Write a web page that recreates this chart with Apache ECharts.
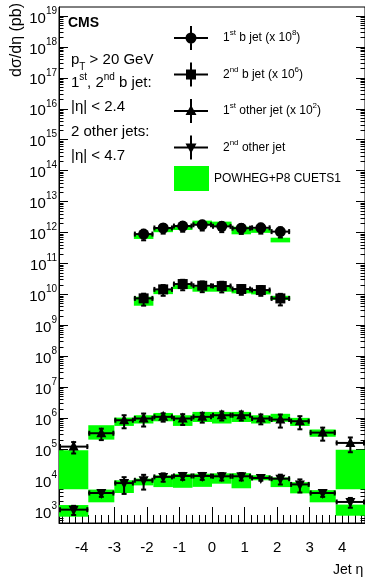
<!DOCTYPE html>
<html>
<head>
<meta charset="utf-8">
<script src="https://cdn.jsdelivr.net/npm/echarts@6/dist/echarts.min.js"></script>
<style>
  html, body { margin: 0; padding: 0; background: #fff; }
  #chart { width: 365px; height: 578px; }
</style>
</head>
<body>
<div id="chart"></div>
<script>
// eta bin edges
const bEdges = [-2.4, -1.8, -1.2, -0.6, 0, 0.6, 1.2, 1.8, 2.4];
const oEdges = [-4.7, -3.8, -3.0, -2.4, -1.8, -1.2, -0.6, 0, 0.6, 1.2, 1.8, 2.4, 3.0, 3.8, 4.7];

// dσ/dη (pb) before the display factors; *Err = half height of the error bar / MC band
const b1Data = [8900, 14000, 16200, 17800, 15800, 13800, 14200, 10700];
const b1Err = [3300, 4800, 5600, 6200, 5500, 4800, 5000, 3800];
const b1Mc = [7250, 12000, 14800, 20900, 19000, 12100, 11400, 5800];
const b1McErr = [1050, 1750, 2750, 3300, 3500, 3350, 1650, 1000];

const b2Data = [7430, 14500, 21600, 19000, 18600, 14900, 13800, 7400];
const b2Err = [3100, 5500, 8000, 7200, 7000, 5200, 4800, 3000];
const b2Mc = [6350, 12000, 17400, 15000, 15000, 12800, 11900, 7800];
const b2McErr = [2050, 1800, 2600, 2800, 2800, 2000, 1900, 1200];

const o1Data = [1200, 3250, 8550, 9700, 11000, 9700, 11000, 12400, 12400, 9700, 9000, 7950, 3400, 1580];
const o1Err = [480, 1300, 3850, 4350, 3300, 3700, 3850, 4000, 4000, 3400, 4050, 3600, 1530, 790];
const o1Mc = [480, 3960, 8000, 9550, 11300, 9000, 11700, 11300, 11700, 9550, 10700, 7900, 3400, 500];
const o1McErr = [430, 1940, 2400, 2850, 3400, 3400, 4200, 4600, 4200, 2850, 3100, 2300, 900, 450];

const o2Data = [1100, 3800, 7950, 9800, 12600, 13500, 13500, 13200, 13200, 11600, 11000, 7200, 3800, 1950];
const o2Err = [360, 950, 4400, 4900, 3800, 3400, 3400, 3550, 3550, 2100, 3850, 3250, 950, 680];
const o2Mc = [1100, 3400, 6800, 8900, 10000, 10700, 11000, 12000, 11000, 12000, 9000, 6100, 3300, 1150];
const o2McErr = [450, 1500, 3000, 2200, 4100, 5100, 5000, 4400, 5600, 2200, 3100, 2400, 1400, 450];

// display factors (x 10^8, x 10^6, x 10^2, x 1)
const factors = { b1: 1e8, b2: 1e6, o1: 1e2, o2: 1 };

const xTicks = [-4, -3, -2, -1, 0, 1, 2, 3, 4];
const yDecades = [3, 4, 5, 6, 7, 8, 9, 10, 11, 12, 13, 14, 15, 16, 17, 18, 19];

const FONT = '"Liberation Sans", Arial, Helvetica, sans-serif';
const Y_MIN = Math.pow(10, 2.61), Y_MAX = Math.pow(10, 19.29);

const yMajor = yDecades.map((n) => Math.pow(10, n));
const yMinor = [];
for (let n = 2; n <= 19; n++) {
  for (let k = 2; k <= 9; k++) {
    const v = k * Math.pow(10, n);
    if (v > Y_MIN && v < Y_MAX) yMinor.push(v);
  }
}
const xMinor = [];
for (let k = -23; k <= 23; k++) xMinor.push(k / 5);

const points = (edges, vals, errs, f) => vals.map((v, i) => [
  (edges[i] + edges[i + 1]) / 2, v * f, edges[i], edges[i + 1], (v - errs[i]) * f, (v + errs[i]) * f,
]);
const bands = (edges, vals, errs, f) => vals.map((v, i) => [
  edges[i], edges[i + 1], (v - errs[i]) * f, (v + errs[i]) * f,
]);

function marker(shape, cx, cy) {
  const fill = { fill: '#000' };
  if (shape === 'circle') return { type: 'circle', shape: { cx, cy, r: 5.5 }, style: fill };
  if (shape === 'square') return { type: 'rect', shape: { x: cx - 5, y: cy - 5, width: 10, height: 10 }, style: fill };
  if (shape === 'up') return { type: 'polygon', shape: { points: [[cx, cy - 6], [cx + 5, cy + 4], [cx - 5, cy + 4]] }, style: fill };
  return { type: 'polygon', shape: { points: [[cx - 5, cy - 4], [cx + 5, cy - 4], [cx, cy + 6]] }, style: fill };
}

function dataSeries(name, shape, data) {
  return {
    name, type: 'custom', z: 3, data,
    itemStyle: { color: '#000' },
    encode: { x: 0, y: 1 },
    renderItem: (params, api) => {
      const c = api.coord([api.value(0), api.value(1)]);
      const l = api.coord([api.value(2), api.value(1)])[0];
      const r = api.coord([api.value(3), api.value(1)])[0];
      const lo = api.coord([api.value(0), api.value(4)])[1];
      const hi = api.coord([api.value(0), api.value(5)])[1];
      const st = { stroke: '#000', lineWidth: 2 };
      const cap = 2.5;
      const line = (x1, y1, x2, y2) => ({ type: 'line', shape: { x1, y1, x2, y2 }, style: st });
      return {
        type: 'group',
        children: [
          line(l, c[1], r, c[1]),
          line(l + 1, c[1] - cap, l + 1, c[1] + cap),
          line(r - 1, c[1] - cap, r - 1, c[1] + cap),
          line(c[0], lo, c[0], hi),
          line(c[0] - cap, lo, c[0] + cap, lo),
          line(c[0] - cap, hi, c[0] + cap, hi),
          marker(shape, c[0], c[1]),
        ],
      };
    },
  };
}

const mcData = [].concat(
  bands(bEdges, b1Mc, b1McErr, factors.b1),
  bands(bEdges, b2Mc, b2McErr, factors.b2),
  bands(oEdges, o1Mc, o1McErr, factors.o1),
  bands(oEdges, o2Mc, o2McErr, factors.o2)
);

const chart = echarts.init(document.getElementById('chart'), null, { renderer: 'canvas' });

const TICK = { lineStyle: { color: '#000', width: 1 } };
const legendText = {
  b1: '{g| }1{s|st} b jet (x 10{s|8})',
  b2: '{g| }2{s|nd} b jet (x 10{s|6})',
  o1: '{g| }1{s|st} other jet (x 10{s|2})',
  o2: '{g| }2{s|nd} other jet',
  mc: 'POWHEG+P8 CUETS1',
};
const LEG_TEXT = {
  color: '#000', fontSize: 12, fontFamily: FONT, lineHeight: 18,
  rich: {
    g: { width: 10 },
    s: { fontSize: 8, fontFamily: FONT, color: '#000', verticalAlign: 'top', lineHeight: 8 },
  },
};
const BAR = 'M0,11H34V13H0Z M16,0H18V24H16Z ';

const yAxisBase = {
  type: 'log', logBase: 10, min: Y_MIN, max: Y_MAX,
  splitLine: { show: false },
  axisLine: { show: false, onZero: false },
};

chart.setOption({
  backgroundColor: '#fff',
  animation: false,
  grid: { left: 59, top: 7, width: 307, height: 516, show: true, borderColor: '#000', borderWidth: 1 },
  xAxis: [
    {
      type: 'value', min: -4.7, max: 4.7,
      axisLine: { show: true, onZero: false, lineStyle: { color: '#000' } },
      axisTick: { inside: true, length: 16, customValues: xTicks, ...TICK },
      axisLabel: { customValues: xTicks, margin: 17, color: '#000', fontSize: 15, fontFamily: FONT },
      splitLine: { show: false },
    },
    {
      type: 'value', min: -4.7, max: 4.7, position: 'bottom',
      axisLine: { show: false, onZero: false },
      axisTick: { inside: true, length: 8, customValues: xMinor, ...TICK },
      axisLabel: { show: false },
      splitLine: { show: false },
    },
  ],
  yAxis: [
    {
      ...yAxisBase, position: 'left',
      axisLine: { show: true, onZero: false, lineStyle: { color: '#000' } },
      axisTick: { inside: true, length: 9, customValues: yMajor, ...TICK },
      axisLabel: {
        customValues: yMajor, margin: 2, color: '#000',
        formatter: (v) => '{m|10}{e|' + Math.round(Math.log10(v)) + '}',
        rich: {
          m: { fontSize: 15, fontFamily: FONT, color: '#000', verticalAlign: 'bottom', lineHeight: 20 },
          e: { fontSize: 10, fontFamily: FONT, color: '#000', verticalAlign: 'top', lineHeight: 10 },
        },
      },
    },
    {
      ...yAxisBase, position: 'left',
      axisTick: { inside: true, length: 4.5, customValues: yMinor, ...TICK },
      axisLabel: { show: false },
    },
    {
      ...yAxisBase, position: 'right',
      axisTick: { inside: true, length: 9, customValues: yMajor, ...TICK },
      axisLabel: { show: false },
    },
    {
      ...yAxisBase, position: 'right',
      axisTick: { inside: true, length: 4.5, customValues: yMinor, ...TICK },
      axisLabel: { show: false },
    },
  ],
  legend: [
    {
      orient: 'vertical', left: 169, top: 21, itemWidth: 34, itemHeight: 24, itemGap: 12.5,
      selectedMode: false,
      data: [
        { name: 'b1', icon: 'path://' + BAR + 'M22.5,12A5.5,5.5 0 1,1 11.5,12A5.5,5.5 0 1,1 22.5,12Z', itemStyle: { color: '#000' } },
        { name: 'b2', icon: 'path://' + BAR + 'M12,7H22V17H12Z', itemStyle: { color: '#000' } },
        { name: 'o1', icon: 'path://' + BAR + 'M17,6L22.5,16H11.5Z', itemStyle: { color: '#000' } },
        { name: 'o2', icon: 'path://' + BAR + 'M11.5,8H22.5L17,18Z', itemStyle: { color: '#000' } },
      ],
      formatter: (n) => legendText[n],
      textStyle: LEG_TEXT,
    },
    {
      orient: 'vertical', left: 169, top: 161, itemWidth: 35, itemHeight: 25,
      selectedMode: false,
      data: [{ name: 'mc', icon: 'rect', itemStyle: { color: '#00ff00' } }],
      formatter: (n) => legendText[n],
      textStyle: LEG_TEXT,
    },
  ],
  graphic: [
    { type: 'text', x: 68, y: 23, style: { text: 'CMS', font: 'bold 14px ' + FONT, fill: '#000', verticalAlign: 'middle' } },
    {
      type: 'text', x: 71, y: 60,
      style: {
        text: 'p{sub|T} > 20 GeV', font: '15px ' + FONT, fill: '#000', verticalAlign: 'middle', lineHeight: 24,
        rich: { sub: { font: '10px ' + FONT, fill: '#000', verticalAlign: 'bottom', lineHeight: 12 } },
      },
    },
    {
      type: 'text', x: 71, y: 83,
      style: {
        text: '1{sup|st}, 2{sup|nd} b jet:', font: '15px ' + FONT, fill: '#000', verticalAlign: 'middle', lineHeight: 22,
        rich: { sup: { font: '10px ' + FONT, fill: '#000', verticalAlign: 'top', lineHeight: 10 } },
      },
    },
    { type: 'text', x: 71, y: 107, style: { text: '|η| < 2.4', font: '15px ' + FONT, fill: '#000', verticalAlign: 'middle' } },
    { type: 'text', x: 71, y: 132, style: { text: '2 other jets:', font: '15px ' + FONT, fill: '#000', verticalAlign: 'middle' } },
    { type: 'text', x: 71, y: 156, style: { text: '|η| < 4.7', font: '15px ' + FONT, fill: '#000', verticalAlign: 'middle' } },
    {
      type: 'text', x: 17, y: 3, rotation: Math.PI / 2,
      style: { text: 'dσ/dη (pb)', font: '16px ' + FONT, fill: '#000', align: 'right', verticalAlign: 'middle' },
    },
    { type: 'text', x: 333, y: 570, style: { text: 'Jet η', font: '14px ' + FONT, fill: '#000', verticalAlign: 'middle' } },
  ],
  series: [
    {
      name: 'mc', type: 'custom', z: 1, data: mcData,
      itemStyle: { color: '#00ff00' },
      encode: { x: [0, 1], y: [2, 3] },
      renderItem: (params, api) => {
        const a = api.coord([api.value(0), api.value(3)]);
        const b = api.coord([api.value(1), api.value(2)]);
        return {
          type: 'rect',
          shape: { x: a[0], y: a[1], width: b[0] - a[0], height: b[1] - a[1] },
          style: { fill: '#00ff00' },
        };
      },
    },
    dataSeries('b1', 'circle', points(bEdges, b1Data, b1Err, factors.b1)),
    dataSeries('b2', 'square', points(bEdges, b2Data, b2Err, factors.b2)),
    dataSeries('o1', 'up', points(oEdges, o1Data, o1Err, factors.o1)),
    dataSeries('o2', 'down', points(oEdges, o2Data, o2Err, factors.o2)),
  ],
});
</script>
</body>
</html>
